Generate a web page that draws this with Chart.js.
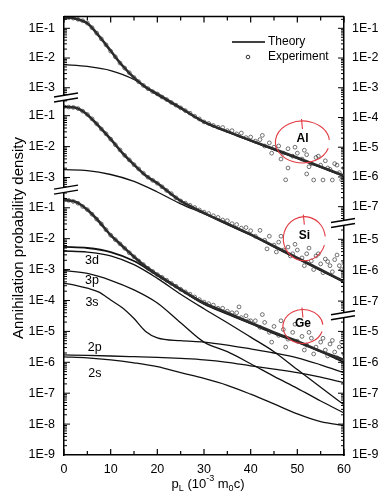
<!DOCTYPE html>
<html lang="en">
<head>
<meta charset="UTF-8">
<title>Annihilation probability density</title>
<script src="https://cdn.jsdelivr.net/npm/chart.js"></script>
<style>
  html, body { margin: 0; padding: 0; background: #fff; }
</style>
</head>
<body>
<canvas id="chart" width="378" height="498"></canvas>
<script>
// momentum grids, p_L in 10^-3 m0c
const pFine = [0, 2.5, 5, 7.5, 10, 12.5, 15, 17.5, 20, 25, 30, 35, 40, 45, 50, 55, 60];
const pCoarse = [0, 5, 10, 15, 20, 25, 30, 35, 40, 45, 50, 55, 60];
const pExp = [0, 1, 2, 3, 4, 5, 6, 7, 8, 9, 10, 11, 12, 13, 14, 15, 16, 17, 18, 19, 20,
  21, 22, 23, 24, 25, 26, 27, 28, 29, 30, 31, 32, 33, 34, 35, 36, 37, 38, 39, 40,
  41, 42, 43, 44, 45, 46, 47, 48, 49, 50, 51, 52, 53, 54, 55, 56, 57, 58, 59, 60];

// theory curves
const alTotal = [2.3e-1, 2.1e-1, 1.47e-1, 5.5e-2, 1.75e-2, 5.6e-3, 2.2e-3, 1.05e-3, 6.2e-4, 2.1e-4, 7.1e-5, 3.4e-5, 1.7e-5, 8.7e-6, 4.4e-6, 2.2e-6, 1.1e-6];
const alCore = [6.0e-3, 5.2e-3, 3.8e-3, 1.9e-3, 5.7e-4, 2.0e-4, 6.8e-5, 3.2e-5, 1.6e-5, 8.1e-6, 4.1e-6, 2.1e-6, 1.04e-6];
const siTotal = [1.94e-1, 1.8e-1, 1.08e-1, 4.5e-2, 1.74e-2, 6.3e-3, 2.6e-3, 1.17e-3, 6.5e-4, 1.74e-4, 7.2e-5, 3.2e-5, 1.45e-5, 6.0e-6, 2.5e-6, 1.04e-6, 4.3e-7];
const siCore = [1.8e-3, 1.68e-3, 1.25e-3, 7.5e-4, 3.4e-4, 1.4e-4, 6.7e-5, 3.0e-5, 1.35e-5, 5.6e-6, 2.3e-6, 9.7e-7, 4.0e-7];
const geTotal = [1.8e-1, 1.55e-1, 8.6e-2, 3.6e-2, 1.3e-2, 5.8e-3, 2.6e-3, 1.25e-3, 6.9e-4, 2.3e-4, 8.3e-5, 4.0e-5, 1.9e-5, 9.3e-6, 4.8e-6, 2.3e-6, 1.2e-6];
const geCore = [5.4e-3, 5.0e-3, 3.7e-3, 1.9e-3, 6.5e-4, 2.2e-4, 7.7e-5, 3.7e-5, 1.8e-5, 8.6e-6, 4.5e-6, 2.2e-6, 1.0e-6];
const ge3d = [4.0e-3, 3.7e-3, 2.8e-3, 1.44e-3, 5.2e-4, 1.6e-4, 5.4e-5, 1.9e-5, 6.5e-6, 2.2e-6, 5.8e-7, 1.55e-7, 4.2e-8];
const ge3p = [9.3e-4, 7.5e-4, 4.5e-4, 2.2e-4, 8.3e-5, 1.9e-5, 4.5e-6, 2.2e-6, 9.0e-7, 3.5e-7, 1.44e-7, 5.6e-8, 2.3e-8];
const ge3s = [3.6e-4, 3.1e-4, 2.5e-4, 1.86e-4, 1.04e-4, 5.8e-5, 2.6e-5, 1.0e-5, 6.2e-6, 5.0e-6, 4.5e-6, 3.6e-6, 2.7e-6, 2.0e-6, 1.4e-6, 8.3e-7, 4.6e-7];
const ge2p = [1.73e-6, 1.67e-6, 1.6e-6, 1.52e-6, 1.44e-6, 1.33e-6, 1.2e-6, 1.0e-6, 7.7e-7, 6.0e-7, 4.6e-7, 3.3e-7, 2.2e-7];
const ge2s = [1.5e-6, 1.39e-6, 1.2e-6, 9.6e-7, 7.2e-7, 4.6e-7, 3.0e-7, 1.8e-7, 9.3e-8, 4.5e-8, 2.15e-8, 1.2e-8, 9.0e-9];

// experiment, one point per p_L step
const alExp = [2.3e-1, 2.3e-1, 2.2e-1, 2.0e-1, 1.8e-1, 1.5e-1, 1.05e-1, 6.9e-2, 4.4e-2, 2.8e-2,
  1.7e-2, 1.1e-2, 6.8e-3, 4.6e-3, 3.2e-3, 2.2e-3, 1.6e-3, 1.2e-3, 9.3e-4, 7.4e-4,
  6.2e-4, 4.9e-4, 4.0e-4, 3.2e-4, 2.6e-4, 2.1e-4, 1.7e-4, 1.4e-4, 1.1e-4, 8.9e-5,
  7.1e-5, 6.3e-5, 5.4e-5, 4.7e-5, 4.6e-5, 3.6e-5, 3.6e-5, 2.8e-5, 3.0e-5, 2.1e-5,
  2.2e-5, 1.6e-5, 1.8e-5, 1.1e-5, 1.4e-5, 1.0e-5, 1.1e-5, 6.3e-6, 8.9e-6, 5.0e-6,
  6.3e-6, 4.0e-6, 5.6e-6, 2.8e-6, 4.5e-6, 2.5e-6, 3.5e-6, 1.8e-6, 2.8e-6, 1.4e-6, 2.0e-6];
const siExp = [1.95e-1, 1.9e-1, 1.85e-1, 1.7e-1, 1.4e-1, 1.1e-1, 7.9e-2, 5.5e-2, 3.7e-2, 2.6e-2,
  1.74e-2, 1.15e-2, 7.8e-3, 5.2e-3, 3.7e-3, 2.6e-3, 1.9e-3, 1.38e-3, 1.02e-3, 8.1e-4,
  6.5e-4, 5.0e-4, 3.8e-4, 3.0e-4, 2.2e-4, 1.74e-4, 1.48e-4, 1.26e-4, 1.07e-4, 8.9e-5,
  7.6e-5, 6.8e-5, 5.8e-5, 5.1e-5, 4.2e-5, 4.0e-5, 3.2e-5, 3.0e-5, 2.3e-5, 2.4e-5,
  1.9e-5, 1.26e-5, 1.95e-5, 9.3e-6, 1.26e-5, 6.5e-6, 8.1e-6, 4.5e-6, 5.6e-6, 3.4e-6,
  4.5e-6, 2.5e-6, 3.4e-6, 2.0e-6, 2.9e-6, 1.6e-6, 2.3e-6, 1.4e-6, 2.2e-6, 1.4e-6, 1.7e-6];
const geExp = [1.8e-1, 1.74e-1, 1.6e-1, 1.4e-1, 1.1e-1, 8.7e-2, 6.2e-2, 4.3e-2, 3.0e-2, 1.95e-2,
  1.3e-2, 9.3e-3, 6.8e-3, 4.9e-3, 3.5e-3, 2.6e-3, 1.9e-3, 1.45e-3, 1.1e-3, 8.7e-4,
  6.9e-4, 5.6e-4, 4.5e-4, 3.6e-4, 2.9e-4, 2.3e-4, 1.9e-4, 1.6e-4, 1.3e-4, 1.07e-4,
  8.9e-5, 7.9e-5, 7.1e-5, 5.6e-5, 5.6e-5, 4.5e-5, 4.0e-5, 4.0e-5, 2.8e-5, 3.2e-5,
  2.2e-5, 2.2e-5, 1.35e-5, 1.95e-5, 9.3e-6, 1.45e-5, 7.4e-6, 1.15e-5, 5.6e-6, 9.3e-6,
  4.8e-6, 6.9e-6, 3.6e-6, 6.0e-6, 3.1e-6, 4.5e-6, 2.5e-6, 3.9e-6, 2.15e-6, 3.1e-6, 1.86e-6];

// extra scattered experiment points in the tails
const alTailP = [42.5, 44.5, 46.5, 47.5, 48, 49.5, 51.5, 52, 52.5, 53.5, 54.5, 55.5, 56.5, 57.5, 58.5, 59.5, 60];
const alTailD = [2.5e-5, 6.3e-6, 4.0e-6, 8e-7, 2.0e-6, 1.0e-5, 7.9e-6, 1.26e-6, 2.2e-6, 7.9e-7, 5.0e-6, 7.9e-7, 2.0e-6, 7.9e-7, 2.5e-6, 8e-7, 1.1e-6];
const siTailP = [43.5, 45.5, 46.5, 48.5, 49.5, 51.5, 52.5, 53.5, 54.5, 55.5, 56.5, 57.5, 58.5, 59.5];
const siTailD = [4.9e-6, 3.9e-6, 1.26e-5, 2.9e-6, 6.9e-6, 1.4e-6, 5.2e-6, 1.05e-6, 3.4e-6, 8.3e-7, 1.9e-6, 8.9e-7, 3.1e-6, 1.05e-6];
const geTailP = [37.5, 39.5, 42.5, 44.5, 46.5, 47.5, 49.5, 51.5, 52.5, 53.5, 55.5, 56.5, 57.5, 58.5, 59.5];
const geTailD = [6.2e-5, 2.2e-5, 3.5e-5, 4.5e-6, 2.2e-5, 3.1e-6, 1.7e-5, 2.5e-6, 9.3e-6, 1.86e-6, 6.0e-6, 1.6e-6, 5.1e-6, 1.4e-6, 4.5e-6];

// tick labels of each stacked panel
const alLeftTicks = ['1E-1', '1E-2', '1E-3'];
const siLeftTicks = ['1E-1', '1E-2', '1E-3'];
const geLeftTicks = ['1E-1', '1E-2', '1E-3', '1E-4', '1E-5', '1E-6', '1E-7', '1E-8', '1E-9'];
const alRightTicks = ['1E-1', '1E-2', '1E-3', '1E-4', '1E-5', '1E-6', '1E-7'];
const siRightTicks = ['1E-5', '1E-6', '1E-7'];
const geRightTicks = ['1E-5', '1E-6', '1E-7', '1E-8', '1E-9'];
const xTicks = [0, 10, 20, 30, 40, 50, 60];
const curveNames = ['3d', '3p', '3s', '2p', '2s'];

// the three panels share one axis: each one is shifted (in decades)
const AL = { off: 5.77, s: 0.962 };
const SI = { off: 2.98, s: 1 };
const GE = { off: 0, s: 1 };
const toU = (panel, v) => panel.off + panel.s * Math.log10(v);

const FONT = "'Liberation Sans', Arial, sans-serif";
Chart.defaults.font.family = FONT;

function theory(xs, vals, panel, w, color) {
  return {
    type: 'line',
    data: xs.map((x, i) => ({ x: x, y: toU(panel, vals[i]) })),
    borderColor: color || '#111', borderWidth: w, pointRadius: 0, fill: false,
    cubicInterpolationMode: 'monotone', yAxisID: 'y'
  };
}
function points(xs, vals, panel) {
  return {
    type: 'scatter',
    data: xs.map((x, i) => ({ x: x, y: toU(panel, vals[i]) })),
    pointRadius: 1.9, pointBorderWidth: 0.8,
    pointBorderColor: 'rgba(50,50,50,0.85)', pointBackgroundColor: 'rgba(255,255,255,0)',
    showLine: false, yAxisID: 'y'
  };
}

function tickList(groups) {
  const out = [];
  groups.forEach(([panel, labels]) => labels.forEach(l => out.push({ value: toU(panel, parseFloat(l)), label: l })));
  return out.sort((a, b) => a.value - b.value);
}
const leftTicks = tickList([[AL, alLeftTicks], [SI, siLeftTicks], [GE, geLeftTicks]]);
const rightTicks = tickList([[AL, alRightTicks], [SI, siRightTicks], [GE, geRightTicks]]);

// axis breaks (in axis units) and panel spans for minor ticks
const leftBreaks = [2.587, -0.397];
const rightBreaks = [-1.476, -4.46];
const U_MIN = -9, U_MAX = 5.19;

const decor = {
  id: 'decor',
  afterDraw(chart) {
    const ctx = chart.ctx, a = chart.chartArea;
    const xs = chart.scales.x, ys = chart.scales.y;
    const seg = (x1, y1, x2, y2) => { ctx.beginPath(); ctx.moveTo(x1, y1); ctx.lineTo(x2, y2); ctx.stroke(); };
    ctx.save();
    ctx.strokeStyle = '#000';

    // top frame line
    ctx.lineWidth = 1.5;
    seg(a.left, a.top, a.right, a.top);

    // x ticks on bottom and top, pointing in
    ctx.lineWidth = 1.2;
    for (let v = 0; v <= 60; v += 5) {
      const px = xs.getPixelForValue(v), len = v % 10 === 0 ? 6 : 4;
      seg(px, a.bottom, px, a.bottom - len);
      seg(px, a.top, px, a.top + len);
    }

    // y ticks (log, with minors) for every panel on both sides
    const spans = [
      [a.left, 1, AL, U_MAX, leftBreaks[0]], [a.left, 1, SI, leftBreaks[0], leftBreaks[1]], [a.left, 1, GE, leftBreaks[1], U_MIN],
      [a.right, -1, AL, U_MAX, rightBreaks[0]], [a.right, -1, SI, rightBreaks[0], rightBreaks[1]], [a.right, -1, GE, rightBreaks[1], U_MIN]
    ];
    ctx.lineWidth = 1;
    spans.forEach(([x0, dir, panel, uTop, uBot]) => {
      for (let e = -10; e <= 0; e++) {
        for (let k = 1; k <= 9; k++) {
          const u = toU(panel, k * Math.pow(10, e));
          if (u > uTop - 0.05 || u < uBot + 0.01) continue;
          const py = ys.getPixelForValue(u);
          seg(x0, py, x0 + dir * (k === 1 ? 6 : 3), py);
        }
      }
    });

    // break marks
    const brk = (x, u) => {
      const y = ys.getPixelForValue(u);
      ctx.fillStyle = '#fff';
      ctx.beginPath();
      ctx.moveTo(x - 10, y); ctx.lineTo(x + 14, y - 4); ctx.lineTo(x + 14, y + 1); ctx.lineTo(x - 10, y + 5);
      ctx.closePath(); ctx.fill();
      ctx.lineWidth = 1.4;
      seg(x - 10, y, x + 14, y - 4);
      seg(x - 10, y + 5, x + 14, y + 1);
    };
    leftBreaks.forEach(u => brk(a.left, u));
    rightBreaks.forEach(u => brk(a.right - 3, u));

    // legend
    ctx.fillStyle = '#000';
    ctx.font = '12px ' + FONT;
    ctx.textBaseline = 'middle';
    ctx.textAlign = 'left';
    ctx.lineWidth = 1.3;
    seg(232, 42, 265, 42);
    ctx.fillText('Theory', 268, 42);
    ctx.lineWidth = 0.8;
    ctx.beginPath(); ctx.arc(248, 57, 1.8, 0, Math.PI * 2); ctx.stroke();
    ctx.fillText('Experiment', 268, 57);

    // sub-shell labels, placed on the Ge scale
    const labelAt = [[6, 1.9e-3], [6, 4.5e-4], [6, 8.9e-5], [6.6, 3.1e-6], [6.6, 4.3e-7]];
    ctx.font = '12.5px ' + FONT;
    ctx.textAlign = 'center';
    curveNames.forEach((n, i) => {
      ctx.fillText(n, xs.getPixelForValue(labelAt[i][0]), ys.getPixelForValue(toU(GE, labelAt[i][1])));
    });

    // hand-drawn red marks with element names
    const marks = [['Al', AL, 51.1, 1.5e-5, 27, 21], ['Si', SI, 51.5, 1.05e-5, 21, 22], ['Ge', GE, 51.2, 1.44e-5, 20, 17]];
    marks.forEach(([name, panel, x, v, rx, ry]) => {
      const cx = xs.getPixelForValue(x), cy = ys.getPixelForValue(toU(panel, v));
      ctx.strokeStyle = '#e23a42';
      ctx.lineWidth = 1.1;
      ctx.beginPath(); ctx.ellipse(cx, cy, rx, ry, 0, 0.3, Math.PI * 2 - 0.1); ctx.stroke();
      seg(cx - 1, cy - ry - 2, cx, cy - ry + 8);
      ctx.fillStyle = '#000';
      ctx.font = 'bold 12px ' + FONT;
      ctx.fillText(name, cx, cy - 3);
    });

    // axis titles
    ctx.fillStyle = '#000';
    ctx.save();
    ctx.translate(19, 238);
    ctx.rotate(-Math.PI / 2);
    ctx.font = '15px ' + FONT;
    ctx.textAlign = 'center';
    ctx.fillText('Annihilation probability density', 0, 0);
    ctx.restore();

    const parts = [['p', 13, 0], ['L', 9, 5], [' (10', 13, 0], ['-3', 9, -5], [' m', 13, 0], ['0', 9, 5], ['c)', 13, 0]];
    let w = 0;
    parts.forEach(([t, s]) => { ctx.font = s + 'px ' + FONT; w += ctx.measureText(t).width; });
    let px = 208 - w / 2;
    ctx.textAlign = 'left';
    parts.forEach(([t, s, dy]) => {
      ctx.font = s + 'px ' + FONT;
      ctx.fillText(t, px, 484 + dy);
      px += ctx.measureText(t).width;
    });
    ctx.restore();
  }
};

const datasets = [
  points(pExp, alExp, AL), points(alTailP, alTailD, AL),
  points(pExp, siExp, SI), points(siTailP, siTailD, SI),
  points(pExp, geExp, GE), points(geTailP, geTailD, GE),
  theory(pFine, alTotal, AL, 2.6, '#2a2a2a'), theory(pCoarse, alCore, AL, 1.3),
  theory(pFine, siTotal, SI, 2.6, '#2a2a2a'), theory(pCoarse, siCore, SI, 1.3),
  theory(pFine, geTotal, GE, 2.6, '#2a2a2a'), theory(pCoarse, geCore, GE, 1.8),
  theory(pCoarse, ge3d, GE, 1.3), theory(pCoarse, ge3p, GE, 1.3), theory(pFine, ge3s, GE, 1.3),
  theory(pCoarse, ge2p, GE, 1.3), theory(pCoarse, ge2s, GE, 1.3)
];

const tickFont = { family: FONT, size: 12.5 };

new Chart(document.getElementById('chart'), {
  type: 'line',
  data: { datasets: datasets },
  options: {
    responsive: false,
    animation: false,
    layout: { padding: { top: 8, left: 0, right: 0, bottom: 0 } },
    plugins: { legend: { display: false }, tooltip: { enabled: false } },
    scales: {
      x: {
        type: 'linear', min: 0, max: 60, position: 'bottom',
        afterBuildTicks: s => { s.ticks = xTicks.map(v => ({ value: v })); },
        afterFit: s => { s.height = 43; },
        grid: { display: false, drawTicks: false },
        border: { display: true, color: '#000', width: 1.5 },
        ticks: { color: '#000', font: tickFont, padding: 7, maxRotation: 0, autoSkip: false }
      },
      y: {
        type: 'linear', min: U_MIN, max: U_MAX, position: 'left',
        afterBuildTicks: s => { s.ticks = leftTicks.map(t => ({ value: t.value })); },
        afterFit: s => { s.width = 64; },
        grid: { display: false, drawTicks: false },
        border: { display: true, color: '#000', width: 1.5 },
        ticks: { color: '#000', font: tickFont, padding: 9, autoSkip: false,
                 callback: (v, i) => leftTicks[i].label }
      },
      y2: {
        type: 'linear', min: U_MIN, max: U_MAX, position: 'right',
        afterBuildTicks: s => { s.ticks = rightTicks.map(t => ({ value: t.value })); },
        afterFit: s => { s.width = 34; },
        grid: { display: false, drawTicks: false },
        border: { display: true, color: '#000', width: 1.5 },
        ticks: { color: '#000', font: tickFont, padding: 8, autoSkip: false,
                 callback: (v, i) => rightTicks[i].label }
      }
    }
  },
  plugins: [decor]
});
</script>
</body>
</html>
